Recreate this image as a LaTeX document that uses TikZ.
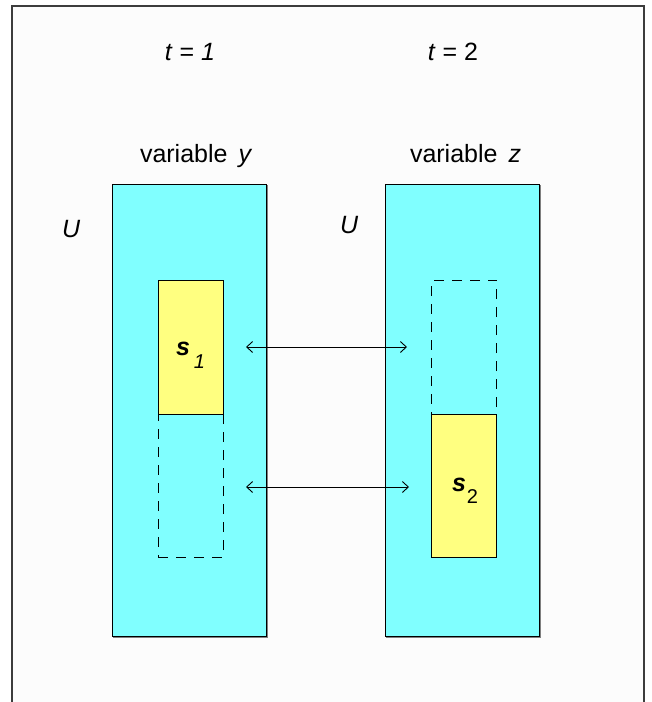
\documentclass[tikz,border=0pt]{standalone}
\usepackage{fontspec}
\setmainfont{Liberation Sans}
\usetikzlibrary{arrows.meta}
\definecolor{cyanfill}{HTML}{80FFFF}
\definecolor{yellowfill}{HTML}{FFFF80}
\definecolor{paper}{HTML}{FCFCFC}
\definecolor{framegray}{HTML}{3C3C3C}
\tikzset{
  lbl/.style={inner sep=0pt, outer sep=0pt, anchor=base west,
    font=\fontsize{25}{30}\selectfont},
  lblc/.style={lbl, anchor=base},
  region/.style={draw=black, line width=0.9pt, fill=cyanfill,
    inner sep=0pt, outer sep=0pt, minimum width=154pt, minimum height=452pt},
  regshadow/.style={draw=gray, line width=1pt,
    inner sep=0pt, outer sep=0pt, minimum width=154pt, minimum height=452pt},
  subset/.style={draw=black, line width=0.9pt, fill=yellowfill,
    inner sep=0pt, outer sep=0pt, minimum width=65pt, minimum height=134pt},
  ghost/.style={draw=black, line width=0.9pt, dash pattern=on 10pt off 8pt,
    inner sep=0pt, outer sep=0pt, minimum width=65pt, minimum height=134pt},
  link/.style={draw=black, line width=0.9pt,
    {Straight Barb[length=6pt,width=11pt]}-{Straight Barb[length=6pt,width=11pt]}}
}
\begin{document}
\begin{tikzpicture}[x=1pt, y=-1pt]
  \useasboundingbox (0,0) rectangle (652,702);
  \fill[white] (0,0) rectangle (652,702);
  % page frame, open at the bottom
  \fill[paper] (12,6) rectangle (644,702);
  \draw[framegray, line width=1.6pt] (12,702) -- (12,6) -- (644,6) -- (644,702);

  % time headings
  \node[lblc] (t1) at (190,60) {\textit{t} = \textit{1}};
  \node[lblc] (t2) at (453,60) {\textit{t} = 2};

  % variable headings
  \node[lbl] (vy) at (140,162) {variable\hspace{11pt}\textit{y}};
  \node[lbl] (vz) at (410,162) {variable\hspace{11pt}\textit{z}};

  % universe labels
  \node[lbl] (u1) at (62,237) {\textit{U}};
  \node[lbl] (u2) at (340,233) {\textit{U}};

  % universes (cyan columns) with a faint drop edge
  \node[regshadow] (shY) at (190,411) {};
  \node[regshadow] (shZ) at (463.5,411) {};
  \node[region] (colY) at (189,410) {};
  \node[region] (colZ) at (462.5,410) {};

  % subsets for y
  \node[ghost, minimum height=143pt] (gy) at (190.5,485.5) {};
  \node[subset] (s1box) at (190.5,347) {};

  % subsets for z
  \node[ghost] (gz) at (464,347) {};
  \node[subset, minimum height=143pt] (s2box) at (464,485.5) {};

  % subset labels
  \node[lbl] (s1) at (176,355) {\textbf{\textit{s}}\hspace{4pt}\raisebox{-13pt}{\fontsize{20}{24}\selectfont\textit{1}}};
  \node[lbl] (s2) at (452,491) {\textbf{\textit{s}}\hspace{1pt}\raisebox{-12pt}{\fontsize{20}{24}\selectfont 2}};

  % correspondences
  \coordinate (a1l) at (246,347);
  \coordinate (a1r) at (407,347);
  \coordinate (a2l) at (246,487);
  \coordinate (a2r) at (409,487);
  \draw[link] (a1l) -- (a1r);
  \draw[link] (a2l) -- (a2r);
\end{tikzpicture}
\end{document}
